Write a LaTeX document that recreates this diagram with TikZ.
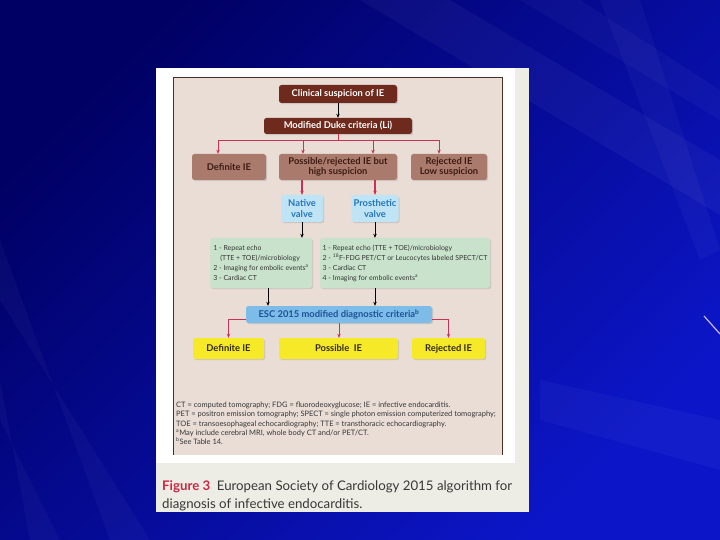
\documentclass[tikz,border=0pt]{standalone}
\usepackage{fontspec}
\setmainfont{Lato}
\usepackage{tikz}
\usetikzlibrary{arrows.meta,shadows,calc,positioning}

\definecolor{slidetop}{RGB}{0,0,100}
\definecolor{slidebot}{RGB}{12,22,200}
\definecolor{panelcream}{RGB}{238,237,229}
\definecolor{chartpink}{RGB}{233,221,214}
\definecolor{chartedge}{RGB}{72,46,36}
\definecolor{dukebrown}{RGB}{110,42,28}
\definecolor{boxbrown}{RGB}{170,122,108}
\definecolor{boxbrowntext}{RGB}{62,28,20}
\definecolor{flowred}{RGB}{200,50,85}
\definecolor{valveblue}{RGB}{190,228,246}
\definecolor{valvetext}{RGB}{38,118,185}
\definecolor{stepgreen}{RGB}{200,226,203}
\definecolor{steptext}{RGB}{55,55,55}
\definecolor{escblue}{RGB}{125,188,232}
\definecolor{esctext}{RGB}{30,80,150}
\definecolor{outyellow}{RGB}{246,234,40}
\definecolor{outtext}{RGB}{50,40,30}
\definecolor{figred}{RGB}{200,40,70}
\definecolor{lavender}{RGB}{200,185,245}

\tikzset{
  boxshadow/.style={drop shadow={opacity=0.25,shadow xshift=1.2bp,shadow yshift=-1.2bp}},
  flowbox/.style={rounded corners=2.5bp,inner sep=1bp,align=center,boxshadow,
    font=\bfseries\fontsize{9.4}{10.5}\selectfont},
  darkbox/.style={flowbox,fill=dukebrown,text=white},
  brownbox/.style={flowbox,fill=boxbrown,text=boxbrowntext,minimum height=26bp},
  valvebox/.style={flowbox,fill=valveblue,text=valvetext,minimum height=27bp},
  greenbox/.style={flowbox,fill=stepgreen,text=steptext,align=left,minimum height=50bp,
    font=\fontsize{7}{10}\selectfont},
  escbox/.style={flowbox,fill=escblue,text=esctext,minimum height=17bp},
  yellowbox/.style={flowbox,fill=outyellow,text=outtext,minimum height=21bp},
  redline/.style={draw=flowred,line width=0.9bp},
  blackline/.style={draw=black,line width=0.9bp}
}

\begin{document}
\begin{tikzpicture}[x=1bp,y=-1bp,>={Stealth[length=4bp,width=3.4bp]}]
  \useasboundingbox (0,0) rectangle (720,540);

  % ---------- slide background ----------
  \shade[top color=slidetop,bottom color=slidebot,shading angle=45] (0,0) rectangle (720,540);
  \fill[white,opacity=0.04] (360,0) -- (450,0) -- (720,160) -- (720,215) -- cycle;
  \fill[white,opacity=0.03] (520,0) -- (580,0) -- (720,90) -- (720,120) -- cycle;
  \fill[white,opacity=0.03] (600,0) -- (640,0) -- (720,250) -- (700,260) -- cycle;
  \fill[white,opacity=0.03] (0,240) -- (0,300) -- (150,540) -- (110,540) -- cycle;
  \fill[white,opacity=0.03] (0,380) -- (0,420) -- (60,540) -- (30,540) -- cycle;
  \fill[white,opacity=0.03] (540,380) -- (720,420) -- (720,470) -- (540,420) -- cycle;
  \draw[lavender,line width=1.2bp] (704,316) -- (720,334);

  % ---------- figure panel ----------
  \fill[panelcream] (156,68) rectangle (529,512);
  \fill[white] (156,68) rectangle (515,463);
  \fill[chartpink] (173,77) rectangle (502,455);
  \draw[chartedge,line width=0.9bp] (173,455) -- (173,77) -- (502,77) -- (502,455);

  % ---------- top of the algorithm ----------
  \node[darkbox,minimum width=118bp,minimum height=18bp] (clin) at (338,94) {Clinical suspicion of IE};
  \node[darkbox,minimum width=148bp,minimum height=16bp] (duke) at (338,126) {Modified Duke criteria (Li)};
  \draw[blackline,->] (clin) -- (duke);

  % Duke outcomes
  \node[brownbox,minimum width=74bp] (defA) at (229,167) {Definite IE};
  \node[brownbox,minimum width=118bp] (possA) at (338,167) {Possible/rejected IE but\\high suspicion};
  \node[brownbox,minimum width=76bp] (rejA) at (449,167) {Rejected IE\\Low suspicion};

  \coordinate (split) at (338,140);
  \coordinate (tDef) at (218,140);
  \coordinate (tPosL) at (303,140);
  \coordinate (tPosR) at (373,140);
  \coordinate (tRej) at (439,140);
  \draw[redline] (duke.south) -- (split);
  \draw[redline] (tDef) -- (tRej);
  \draw[redline,->] (tDef) -- (tDef |- defA.north);
  \draw[redline,->] (tPosL) -- (tPosL |- possA.north);
  \draw[redline,->] (tPosR) -- (tPosR |- possA.north);
  \draw[redline,->] (tRej) -- (tRej |- rejA.north);

  % ---------- valves ----------
  \node[valvebox,minimum width=42bp] (native) at (302,208.5) {Native\\valve};
  \node[valvebox,minimum width=47bp] (prosth) at (375,208.5) {Prosthetic\\valve};
  \draw[redline,line width=1.5bp,->] (possA.south -| native) -- (native.north);
  \draw[redline,line width=1.5bp,->] (possA.south -| prosth) -- (prosth.north);

  % work-up
  \node[greenbox,minimum width=102bp] (greenL) at (261,263)
    {1 - Repeat echo\\\hspace*{7bp}(TTE + TOE)/microbiology\\2 - Imaging for embolic events\textsuperscript{a}\\3 - Cardiac CT};
  \node[greenbox,minimum width=170bp] (greenR) at (405,263)
    {1 - Repeat echo (TTE + TOE)/microbiology\\2 - \textsuperscript{18}F-FDG PET/CT or Leucocytes labeled SPECT/CT\\3 - Cardiac CT\\4 - Imaging for embolic events\textsuperscript{a}};
  \draw[blackline,->] (native.south) -- (native.south |- greenL.north);
  \draw[blackline,->] (prosth.south) -- (prosth.south |- greenR.north);

  % ---------- ESC criteria ----------
  \node[escbox,minimum width=186bp] (esc) at (339,314.5) {ESC 2015 modified diagnostic criteria\textsuperscript{b}};
  \draw[blackline,->] ([xshift=7bp]greenL.south) -- ([xshift=7bp]greenL.south |- esc.north);
  \draw[blackline,->] (greenR.south -| prosth) -- (esc.north -| prosth);

  \node[yellowbox,minimum width=71bp] (defB) at (228.5,348.5) {Definite IE};
  \node[yellowbox,minimum width=119bp] (possB) at (338.5,348.5) {Possible\ \ IE};
  \node[yellowbox,minimum width=73bp] (rejB) at (448.5,348.5) {Rejected IE};
  \draw[redline,->] ([yshift=4bp]esc.south west) -| (defB.north);
  \draw[redline,->] (esc.south) -- (esc.south |- possB.north);
  \draw[redline,->] ([yshift=4bp]esc.south east) -| (rejB.north);

  % ---------- notes and caption ----------
  \node[anchor=north west,inner sep=0,align=left,text=steptext,
        font=\fontsize{7.5}{9.2}\selectfont] (notes) at (176,402)
    {CT = computed tomography; FDG = fluorodeoxyglucose; IE = infective endocarditis.\\
     PET = positron emission tomography; SPECT = single photon emission computerized tomography;\\
     TOE = transoesophageal echocardiography; TTE = transthoracic echocardiography.\\
     \textsuperscript{a}May include cerebral MRI, whole body CT and/or PET/CT.\\
     \textsuperscript{b}See Table 14.};
  \node[anchor=north west,inner sep=0,align=left,text=steptext,
        font=\fontsize{13.3}{19}\selectfont] (caption) at (162,480)
    {\textcolor{figred}{\bfseries Figure 3}\enspace European Society of Cardiology 2015 algorithm for\\
     diagnosis of infective endocarditis.};
\end{tikzpicture}
\end{document}
